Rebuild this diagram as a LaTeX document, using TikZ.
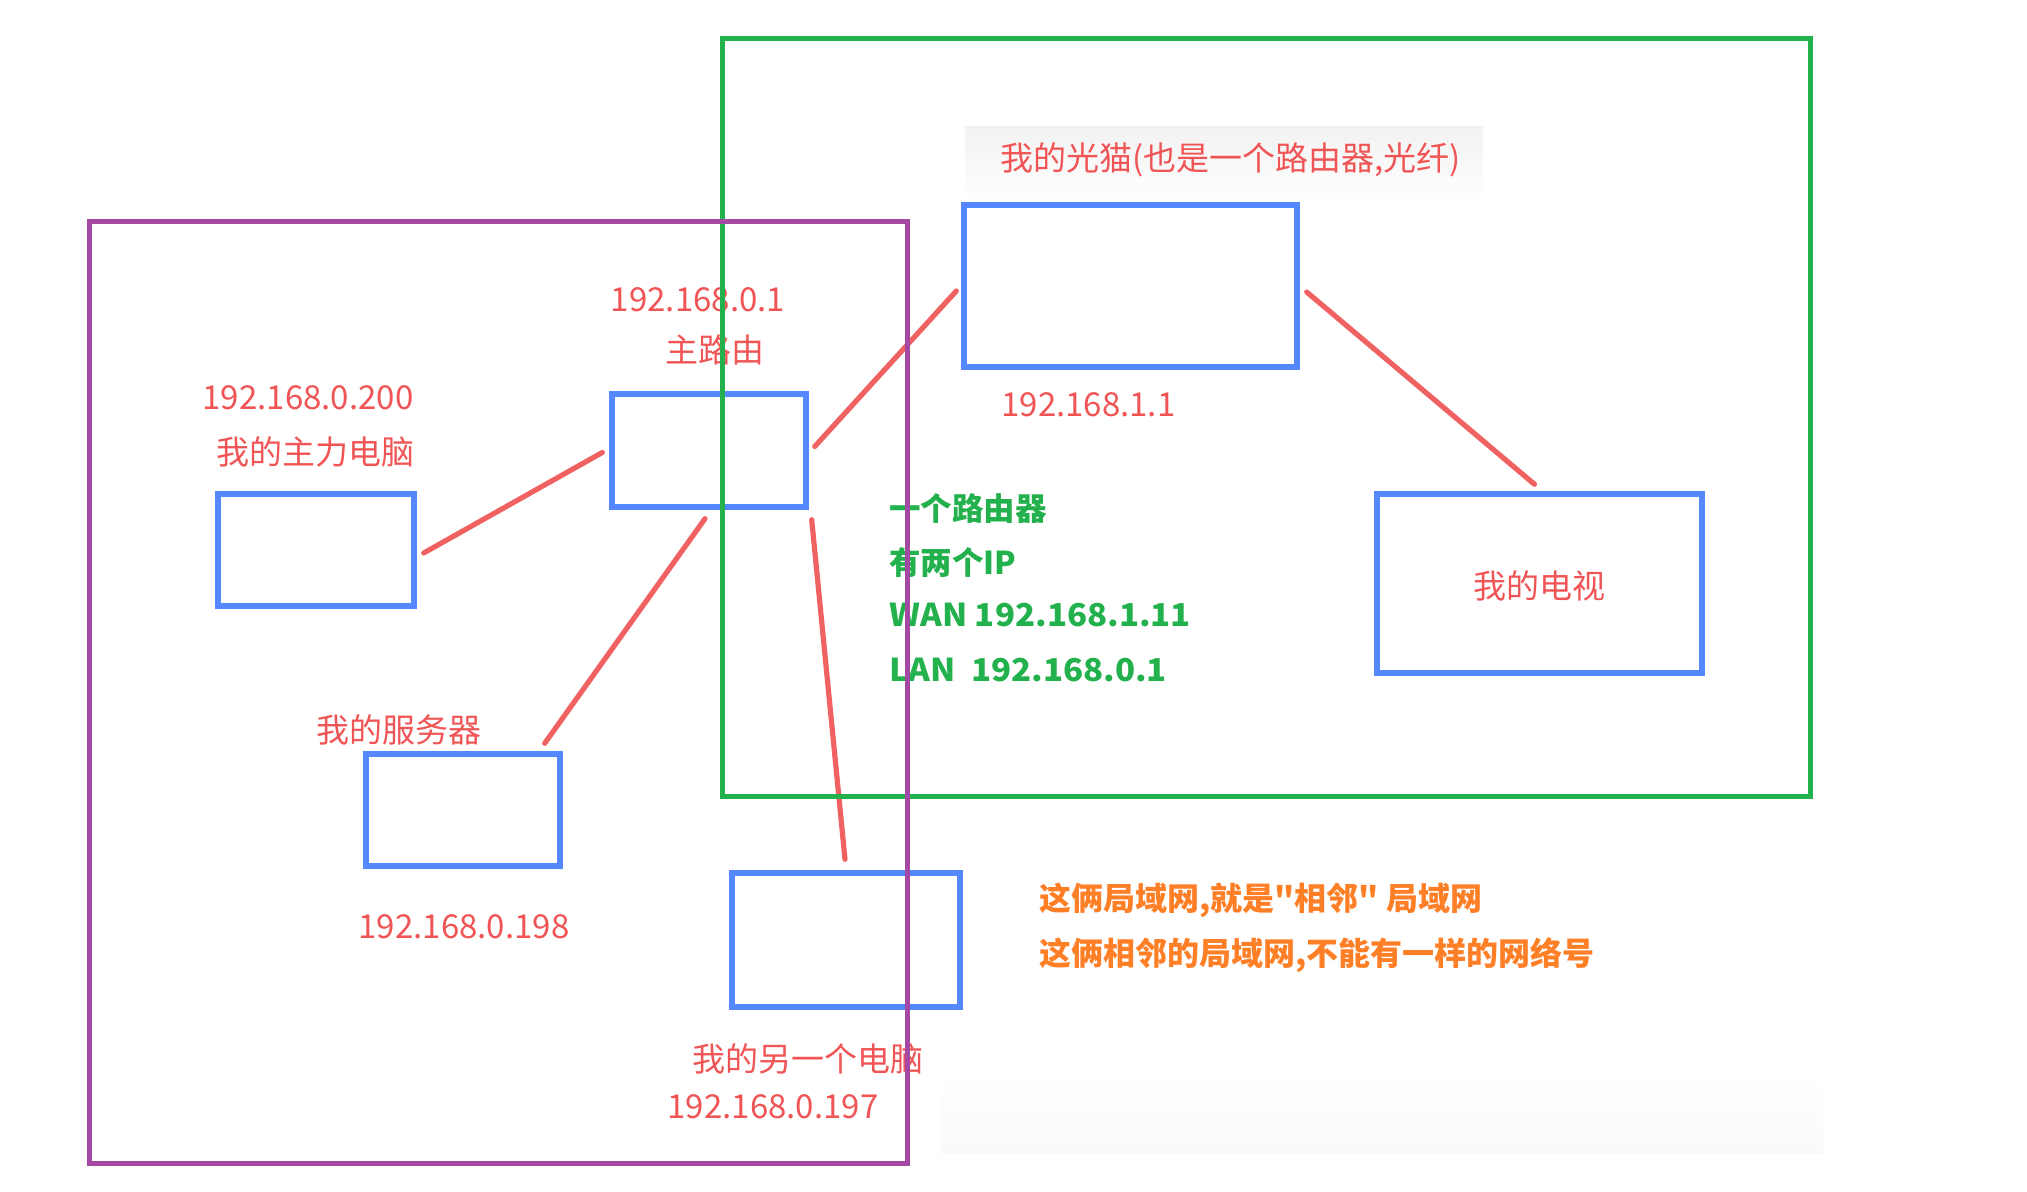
\documentclass[tikz,border=0pt]{standalone}
\usepackage{fontspec}
\newfontfamily\cjk{Noto Sans CJK SC}
\newfontfamily\cjkw{Noto Sans CJK SC}[FakeStretch=1.05]
\usetikzlibrary{calc}
\definecolor{boxblue}{HTML}{5588FF}
\definecolor{linered}{HTML}{F06262}
\definecolor{textred}{HTML}{F05454}
\definecolor{zonegreen}{HTML}{22B14C}
\definecolor{zonepurple}{HTML}{A349A4}
\definecolor{noteorange}{HTML}{FF7F27}
\tikzset{
  devbox/.style={draw=boxblue, line width=2.7pt, inner sep=0pt, fill=none},
  link/.style={draw=linered, line width=2.6pt, line cap=round},
  redlabel/.style={text=textred, inner sep=0pt, font=\cjk\fontsize{16.5pt}{19pt}\selectfont},
  greennote/.style={text=zonegreen, inner sep=0pt, anchor=west, font=\cjk\bfseries\fontsize{15.75pt}{18pt}\selectfont},
  orangenote/.style={text=noteorange, inner sep=0pt, anchor=west, font=\cjk\bfseries\fontsize{16pt}{19pt}\selectfont},
  zone/.style={line width=2.5pt}
}
\begin{document}
\begin{tikzpicture}[x=0.5pt, y=-0.5pt]
\useasboundingbox (0,0) rectangle (2027,1192);
% faint screenshot shading
\shade[top color=black!5, bottom color=white, draw=none] (965,127) rectangle (1483,205);
\shade[top color=white, bottom color=black!2, draw=none] (940,1075) rectangle (1823,1153);

% devices
\node[devbox, minimum width=98pt, minimum height=56pt] (pc1) at (316,550) {};
\node[devbox, minimum width=97pt, minimum height=56.5pt] (router) at (709,450.5) {};
\node[devbox, minimum width=166.5pt, minimum height=81pt] (modem) at (1130.5,286) {};
\node[devbox, minimum width=162.5pt, minimum height=89.5pt] (tv) at (1539.5,583.5) {};
\node[devbox, minimum width=97pt, minimum height=56pt] (server) at (463,810) {};
\node[devbox, minimum width=114pt, minimum height=67pt] (pc2) at (846,940) {};

% connectors
\draw[link] ([xshift=3.5pt,yshift=-1.5pt]pc1.east) -- ([xshift=-3.5pt,yshift=-1pt]router.west);
\draw[link] ([xshift=3pt,yshift=2pt]router.east) -- ([xshift=-2.5pt,yshift=-2.5pt]modem.west);
\draw[link] ([xshift=-2pt,yshift=-4.5pt]router.south) -- ([xshift=-9pt,yshift=4pt]server.north east);
\draw[link] ([xshift=1.5pt,yshift=-5pt]router.south east) -- ([xshift=-0.5pt,yshift=5.5pt]pc2.north);
\draw[link] ([xshift=3.5pt,yshift=-3pt]modem.east) -- ([xshift=-2.5pt,yshift=3.5pt]tv.north);

% labels
\node[redlabel, anchor=west] (tmodem) at (1000,160) {我的光猫(也是一个路由器,光纤)};
\node[redlabel, anchor=west] (ipmodem) at (1001,405) {192.168.1.1};
\node[redlabel] (iprouter) at (698,300) {192.168.0.1};
\node[redlabel] (trouter) at (715,350) {主路由};
\node[redlabel] (ippc1) at (308,398) {192.168.0.200};
\node[redlabel] (tpc1) at (315,452) {我的主力电脑};
\node[redlabel] (tserver) at (399,730) {我的服务器};
\node[redlabel] (ipserver) at (464,927) {192.168.0.198};
\node[redlabel] (tpc2) at (808,1059) {我的另一个电脑};
\node[redlabel] (ippc2) at (773,1107) {192.168.0.197};
\node[redlabel] (ttv) at ([yshift=-1pt]tv.center) {我的电视};

% green note
\node[greennote] (g1) at (889,509) {一个路由器};
\node[greennote] (g2) at (889,563) {有两个IP};
\node[greennote, font=\cjkw\bfseries\fontsize{15.75pt}{18pt}\selectfont] (g3) at (889,615) {WAN 192.168.1.11};
\node[greennote, font=\cjkw\bfseries\fontsize{15.75pt}{18pt}\selectfont] (g4) at (889,670) {LAN\ \ 192.168.0.1};

% orange note
\node[orangenote] (o1) at (1039,900) {这俩局域网,就是"相邻" 局域网};
\node[orangenote] (o2) at (1039,955) {这俩相邻的局域网,不能有一样的网络号};

% zones
\draw[zone, draw=zonegreen] (722,39) rectangle (1810,796);
\draw[zone, draw=zonepurple] (89,222) rectangle (907,1163);
\end{tikzpicture}
\end{document}
